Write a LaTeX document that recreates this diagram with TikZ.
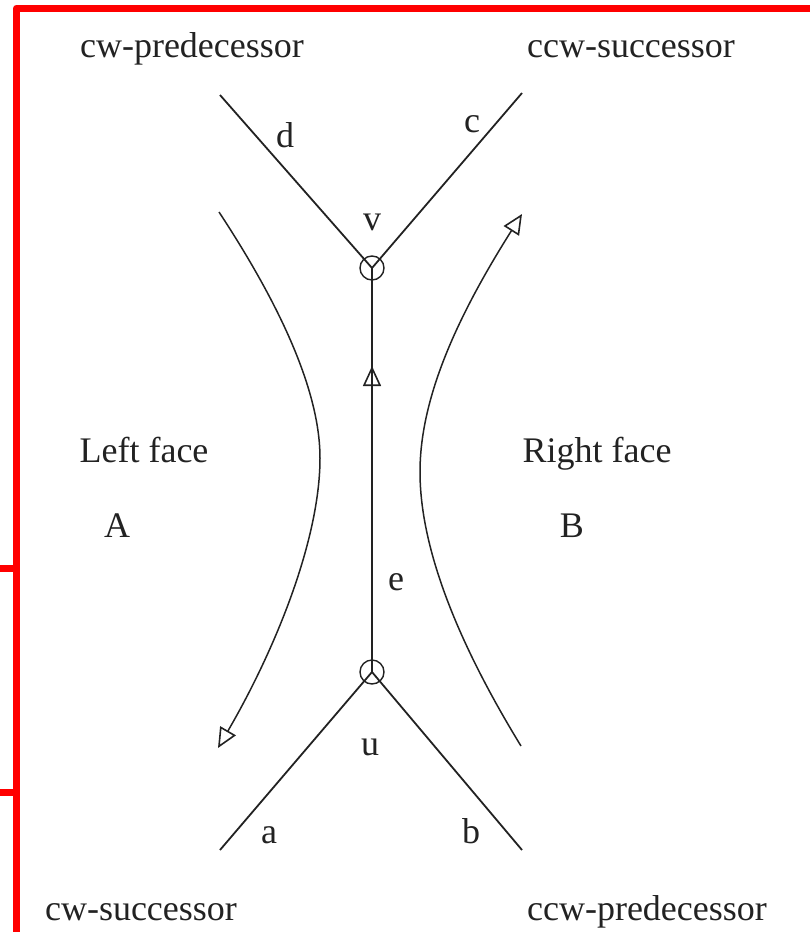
\documentclass[tikz,border=0pt]{standalone}
\usepackage{fontspec}
\setmainfont{Liberation Serif}
\usetikzlibrary{arrows.meta}
\definecolor{inkc}{HTML}{222222}
\definecolor{redc}{HTML}{FF0000}
\tikzset{
  lbl/.style={anchor=base, inner sep=0pt, text=inkc, font=\fontsize{36}{40}\selectfont},
  edgeline/.style={draw=inkc, line width=1.8pt},
  vtx/.style={circle, draw=inkc, line width=1.4pt, minimum size=24pt, inner sep=0pt},
  opentip/.style={-{Triangle[open, length=20pt, width=18pt, line width=1.6pt]}},
  frame/.style={draw=redc, line width=7pt},
}
\begin{document}
\begin{tikzpicture}[x=1pt, y=-1pt]
\useasboundingbox (0,0) rectangle (810,932);
% red frame
\draw[frame, line join=round] (16.5,932) -- (16.5,8) -- (810,8);
\draw[frame] (0,568) -- (16.5,568);
\draw[frame] (0,792) -- (16.5,792);
% vertices
\node[vtx] (v) at (372,268) {};
\node[vtx] (u) at (372,672) {};
% free ends
\coordinate (dend) at (220,95);
\coordinate (cend) at (522,93);
\coordinate (aend) at (220,850);
\coordinate (bend) at (522,850);
\coordinate (emid) at (372,366);
\coordinate (emidlow) at (372,400);
% edges
\draw[edgeline] (dend) -- (v.center);
\draw[edgeline] (cend) -- (v.center);
\draw[edgeline] (aend) -- (u.center);
\draw[edgeline] (bend) -- (u.center);
\draw[edgeline] (u.center) -- (v.center);
\draw[edgeline, opentip] (emidlow) -- (emid);
% face curves
\coordinate (l1) at (219,212);
\coordinate (l2) at (320,458);
\coordinate (l3) at (218,748);
\coordinate (r1) at (522,214);
\coordinate (r2) at (420,472);
\coordinate (r3) at (521,746);
\draw[edgeline, line width=1.5pt, opentip] (l1) .. controls (290,320) and (320,400) .. (l2) .. controls (320,540) and (275,650) .. (l3);
\draw[edgeline, line width=1.5pt, opentip] (r3) .. controls (450,630) and (420,540) .. (r2) .. controls (420,400) and (455,320) .. (r1);
% labels
\node[lbl] (t1) at (192,57) {cw-predecessor};
\node[lbl] (t2) at (631,57) {ccw-successor};
\node[lbl] (ld) at (285,147) {d};
\node[lbl] (lc) at (472,132) {c};
\node[lbl] (lv) at (372,230) {v};
\node[lbl] (lf) at (144,462) {Left face};
\node[lbl] (la) at (117,537) {A};
\node[lbl] (rf) at (597,462) {Right face};
\node[lbl] (lb) at (572,537) {B};
\node[lbl] (le) at (396,590) {e};
\node[lbl] (lu) at (370,755) {u};
\node[lbl] (lae) at (269,843) {a};
\node[lbl] (lbe) at (471,843) {b};
\node[lbl] (t3) at (141,920) {cw-successor};
\node[lbl] (t4) at (647,920) {ccw-predecessor};
\end{tikzpicture}
\end{document}
